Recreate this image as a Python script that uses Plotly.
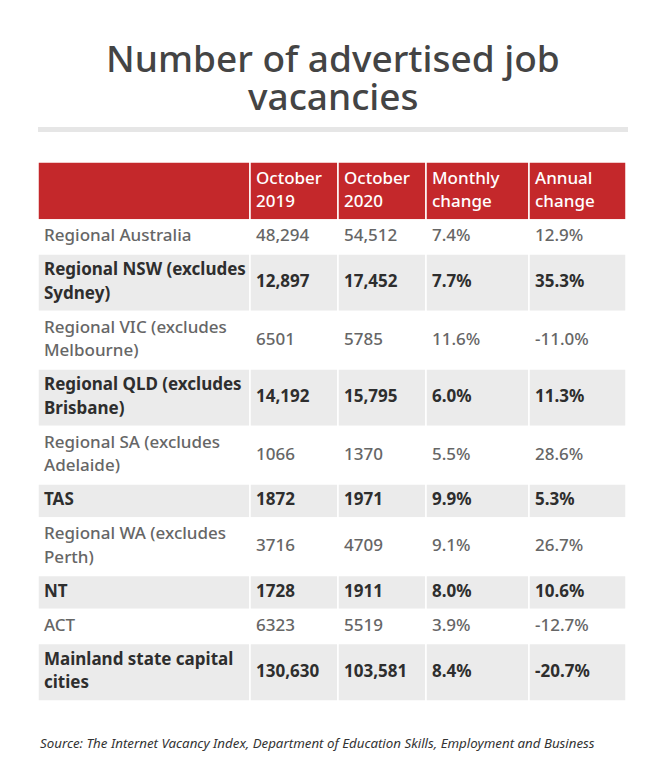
import plotly.graph_objects as go

title_lines = ["Number of advertised job", "vacancies"]
header_labels = ["", "October<br>2019", "October<br>2020", "Monthly<br>change", "Annual<br>change"]
regions = [
    "Regional Australia",
    "Regional NSW (excludes<br>Sydney)",
    "Regional VIC (excludes<br>Melbourne)",
    "Regional QLD (excludes<br>Brisbane)",
    "Regional SA (excludes<br>Adelaide)",
    "TAS",
    "Regional WA (excludes<br>Perth)",
    "NT",
    "ACT",
    "Mainland state capital<br>cities",
]
oct_2019 = ["48,294", "12,897", "6501", "14,192", "1066", "1872", "3716", "1728", "6323", "130,630"]
oct_2020 = ["54,512", "17,452", "5785", "15,795", "1370", "1971", "4709", "1911", "5519", "103,581"]
monthly_change = ["7.4%", "7.7%", "11.6%", "6.0%", "5.5%", "9.9%", "9.1%", "8.0%", "3.9%", "8.4%"]
annual_change = ["12.9%", "35.3%", "-11.0%", "11.3%", "28.6%", "5.3%", "26.7%", "10.6%", "-12.7%", "-20.7%"]
source_text = "Source: The Internet Vacancy Index, Department of Education Skills, Employment and Business"

# ---- layout / style constants ----
W, H = 650, 776
FONT = "Noto Sans"
RED = "#c4282b"
SHADE = "#ebebeb"
TXT_REG = "#666666"
TXT_BOLD = "#2e2e2e"
TABLE_LEFT = 30
TABLE_TOP = 154
COL_WIDTHS = [212, 88, 88, 103, 97]
HEADER_H = 58
ROW_H = 34
LINE_STEP = 23.5
PAD_X = 6
BODY_SIZE = 17

columns = [regions, oct_2019, oct_2020, monthly_change, annual_change]
n = len(regions)
shaded = [i % 2 == 1 for i in range(n)]

col_left = [TABLE_LEFT]
for w in COL_WIDTHS[:-1]:
    col_left.append(col_left[-1] + w)

# row geometry derived from the number of text lines in each row
row_lines = [max(len(c[i].split("<br>")) for c in columns) for i in range(n)]
row_top = []
y = TABLE_TOP + HEADER_H
for k in row_lines:
    row_top.append(y)
    y += ROW_H + LINE_STEP * (k - 1)
row_bottom = [row_top[i] + ROW_H + LINE_STEP * (row_lines[i] - 1) for i in range(n)]

fig = go.Figure()
shapes = []

for j, w in enumerate(COL_WIDTHS):
    shapes.append(dict(type="rect", xref="x", yref="y", x0=col_left[j], x1=col_left[j] + w,
                       y0=TABLE_TOP, y1=TABLE_TOP + HEADER_H, fillcolor=RED,
                       line=dict(color="white", width=1.5), layer="below"))
for i in range(n):
    fill = SHADE if shaded[i] else "white"
    for j, w in enumerate(COL_WIDTHS):
        shapes.append(dict(type="rect", xref="x", yref="y", x0=col_left[j], x1=col_left[j] + w,
                           y0=row_top[i], y1=row_bottom[i], fillcolor=fill,
                           line=dict(color="white", width=1.5), layer="below"))

shapes.append(dict(type="rect", xref="x", yref="y", x0=30, x1=620, y0=119, y1=124,
                   fillcolor="#e6e6e6", line=dict(width=0), layer="below"))


def cell_lines(label, top, bottom, x, bold):
    lines = label.split("<br>")
    mid = (top + bottom) / 2
    xs, ys, ts = [], [], []
    for k, ln in enumerate(lines):
        xs.append(x)
        ys.append(mid + (k - (len(lines) - 1) / 2) * LINE_STEP)
        ts.append("<b>" + ln + "</b>" if bold else ln)
    return xs, ys, ts


hx, hy, ht = [], [], []
for j, lab in enumerate(header_labels):
    if not lab:
        continue
    a, b, c = cell_lines(lab, TABLE_TOP, TABLE_TOP + HEADER_H, col_left[j] + PAD_X, False)
    hx += a; hy += b; ht += c
fig.add_trace(go.Scatter(x=hx, y=hy, text=ht, mode="text", textposition="middle right",
                         textfont=dict(family=FONT, size=BODY_SIZE, color="white", weight=500),
                         hoverinfo="skip", showlegend=False))

for bold in (False, True):
    bx, by, bt = [], [], []
    for i in range(n):
        if shaded[i] != bold:
            continue
        for j, col in enumerate(columns):
            a, b, c = cell_lines(col[i], row_top[i], row_bottom[i], col_left[j] + PAD_X, bold)
            bx += a; by += b; bt += c
    fig.add_trace(go.Scatter(x=bx, y=by, text=bt, mode="text", textposition="middle right",
                             textfont=dict(family=FONT, size=BODY_SIZE,
                                           color=TXT_BOLD if bold else TXT_REG, weight=500),
                             hoverinfo="skip", showlegend=False))

for line, yc in zip(title_lines, (49, 87)):
    fig.add_annotation(x=W / 2, y=yc, xref="x", yref="y", text=line, showarrow=False,
                       font=dict(family=FONT, size=37, color="#444444", weight=500),
                       xanchor="center", yanchor="middle", borderpad=0)

fig.add_annotation(x=TABLE_LEFT, y=735, xref="x", yref="y",
                   text="<i>" + source_text + "</i>", showarrow=False,
                   font=dict(family=FONT, size=13.3, color="#333333"),
                   xanchor="left", yanchor="middle")

fig.update_layout(
    width=W, height=H, margin=dict(l=0, r=0, t=0, b=0),
    paper_bgcolor="white", plot_bgcolor="white", shapes=shapes,
    xaxis=dict(range=[0, W], visible=False, fixedrange=True),
    yaxis=dict(range=[H, 0], visible=False, fixedrange=True),
)
fig.write_html("out.html")
